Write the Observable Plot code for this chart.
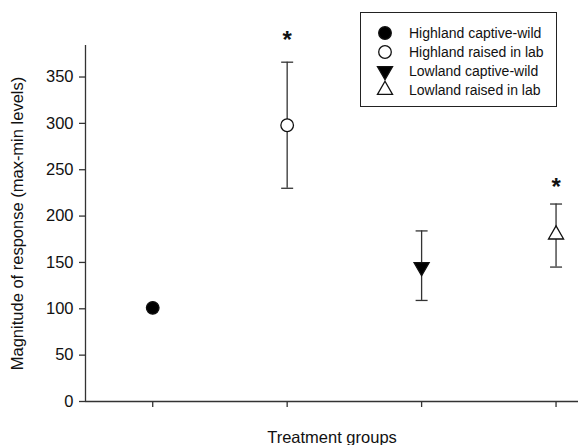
<!DOCTYPE html>
<html><head><meta charset="utf-8">
<script src="https://cdn.jsdelivr.net/npm/d3@7"></script>
<script src="https://cdn.jsdelivr.net/npm/@observablehq/plot@0.6"></script>
<style>
body{margin:0;background:#fff;font-family:"Liberation Sans",Arial,sans-serif}
#wrap{position:relative;width:578px;height:445px;overflow:hidden}
#legend{position:absolute;left:360px;top:12px;width:197px;height:95px;border:1.5px solid #222;box-sizing:border-box;padding-top:10px;background:#fff}
#legend .row{display:flex;align-items:center;height:19px;font-size:14px;color:#111;padding-left:16px}
#legend svg{margin-right:16px;overflow:visible}
</style></head><body><div id="wrap"><div id="legend"></div></div>
<script>
// ---- data ----
const groups = ["Highland captive-wild", "Highland raised in lab", "Lowland captive-wild", "Lowland raised in lab"];
const positions = [1, 2, 3, 4];
const means = [101, 298, 145, 180];
const upper = [null, 366, 184, 213];
const lower = [null, 230, 109, 145];
const asteriskY = [null, 390, null, 231];
const yTicks = [0, 50, 100, 150, 200, 250, 300, 350];
const markerSymbols = ["circle", "circle", "triangle", "triangle"];
const markerFills = ["black", "white", "black", "white"];
const markerRotate = [0, 0, 180, 0];

const rows = groups.map((g, i) => ({group: g, pos: positions[i], mean: means[i], hi: upper[i], lo: lower[i], star: asteriskY[i]}));
const errRows = rows.filter(d => d.hi != null);
const starRows = rows.filter(d => d.star != null);

// horizontal cap symbol for error bars
const cap = {draw(ctx, size) { const w = Math.sqrt(size / Math.PI); ctx.moveTo(-w, 0); ctx.lineTo(w, 0); }};

const markerR = i => markerSymbols[i] === "circle" ? 6.3 : 5.6;

const chart = Plot.plot({
  width: 578, height: 445,
  marginLeft: 85, marginRight: 0, marginTop: 45, marginBottom: 44,
  style: {fontFamily: "'Liberation Sans', Arial, sans-serif", fontSize: "16px", color: "#111", background: "white"},
  x: {domain: [0.5, 4.167]},
  y: {domain: [0, 384]},
  marks: [
    Plot.axisY({ticks: yTicks, tickSize: 6, tickPadding: 6, fontSize: 16.5, stroke: "#333", strokeWidth: 1.3,
      label: "Magnitude of response (max-min levels)", labelAnchor: "center", labelOffset: 74, labelArrow: "none"}),
    Plot.axisX({ticks: positions, tickSize: 6, tickFormat: () => "", stroke: "#333", strokeWidth: 1.3,
      label: "Treatment groups", labelAnchor: "center", labelOffset: 41, labelArrow: "none", fontSize: 16.5}),
    Plot.ruleX([0.5], {stroke: "#333", strokeWidth: 1.3}),
    Plot.ruleY([0], {stroke: "#333", strokeWidth: 1.3}),
    Plot.ruleX(errRows, {x: "pos", y1: "lo", y2: "hi", stroke: "#333", strokeWidth: 1.3}),
    Plot.dot(errRows, {x: "pos", y: "hi", symbol: cap, r: 6, stroke: "#333", strokeWidth: 1.3}),
    Plot.dot(errRows, {x: "pos", y: "lo", symbol: cap, r: 6, stroke: "#333", strokeWidth: 1.3}),
    ...rows.map((d, i) => Plot.dot([d], {x: "pos", y: "mean", symbol: markerSymbols[i], r: markerR(i),
      fill: markerFills[i], stroke: "#111", strokeWidth: 1.3, rotate: markerRotate[i]})),
    Plot.text(starRows, {x: "pos", y: "star", text: () => "*", fontSize: 24, fontWeight: "bold", fill: "#111"})
  ]
});
document.getElementById("wrap").prepend(chart);

// legend
const legend = document.getElementById("legend");
groups.forEach((g, i) => {
  const row = document.createElement("div");
  row.className = "row";
  const r = markerR(i);
  const path = d3.symbol(markerSymbols[i] === "circle" ? d3.symbolCircle : d3.symbolTriangle, r * r * Math.PI)();
  row.innerHTML = `<svg width="16" height="16" viewBox="-8 -8 16 16"><path d="${path}" fill="${markerFills[i]}" stroke="#111" stroke-width="1.3" transform="rotate(${markerRotate[i]})"/></svg><span>${g}</span>`;
  legend.appendChild(row);
});
</script></body></html>
